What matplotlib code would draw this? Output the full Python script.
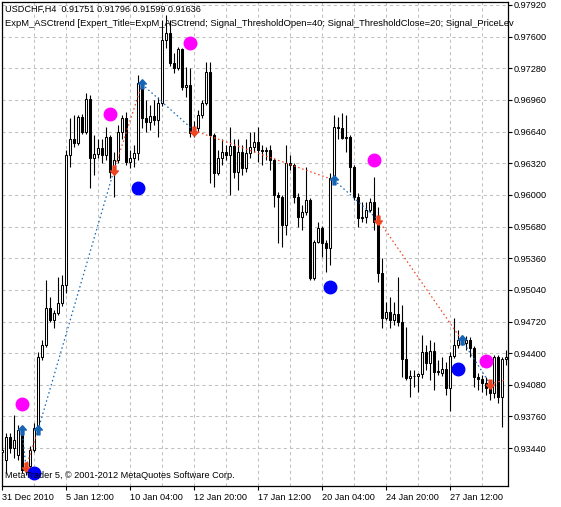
import matplotlib
matplotlib.use("Agg")
import matplotlib.pyplot as plt
import numpy as np

# --- chart data: USDCHF H4 candles ---
opens = [0.9340, 0.9332, 0.9355, 0.9344, 0.9337, 0.9362, 0.9322, 0.9326, 0.9342, 0.9364,
         0.9436, 0.9448, 0.9486, 0.9474, 0.9481, 0.9491, 0.9509, 0.9640, 0.9656, 0.9652,
         0.9679, 0.9664, 0.9697, 0.9637, 0.9641, 0.9647, 0.9640, 0.9659, 0.9623, 0.9635,
         0.9664, 0.9678, 0.9633, 0.9637, 0.9642, 0.9713, 0.9678, 0.9674, 0.9680, 0.9676,
         0.9693, 0.9757, 0.9764, 0.9733, 0.9728, 0.9747, 0.9709, 0.9711, 0.9663, 0.9668,
         0.9681, 0.9693, 0.9724, 0.9661, 0.9622, 0.9637, 0.9643, 0.9640, 0.9649, 0.9623,
         0.9643, 0.9627, 0.9642, 0.9648, 0.9653, 0.9645, 0.9644, 0.9645, 0.9635, 0.9600,
         0.9598, 0.9570, 0.9632, 0.9630, 0.9598, 0.9578, 0.9583, 0.9595, 0.9516, 0.9552,
         0.9567, 0.9551, 0.9546, 0.9617, 0.9669, 0.9668, 0.9658, 0.9659, 0.9628, 0.9598,
         0.9577, 0.9578, 0.9585, 0.9593, 0.9573, 0.9521, 0.9476, 0.9482, 0.9474, 0.9480,
         0.9472, 0.9434, 0.9415, 0.9417, 0.9417, 0.9419, 0.9441, 0.9430, 0.9442, 0.9421,
         0.9420, 0.9424, 0.9405, 0.9437, 0.9448, 0.9453, 0.9450, 0.9453, 0.9445, 0.9416,
         0.9414, 0.9410, 0.9405, 0.9400, 0.9436, 0.9396, 0.9434]
highs = [0.9346, 0.9359, 0.9359, 0.9377, 0.9367, 0.9365, 0.9330, 0.9346, 0.9369, 0.9441,
         0.9453, 0.9514, 0.9497, 0.9484, 0.9517, 0.9519, 0.9645, 0.9678, 0.9681, 0.9681,
         0.9682, 0.9703, 0.9701, 0.9661, 0.9656, 0.9656, 0.9669, 0.9661, 0.9643, 0.9671,
         0.9681, 0.9684, 0.9645, 0.9650, 0.9721, 0.9716, 0.9696, 0.9691, 0.9696, 0.9699,
         0.9777, 0.9782, 0.9777, 0.9743, 0.9750, 0.9748, 0.9729, 0.9728, 0.9675, 0.9686,
         0.9696, 0.9734, 0.9734, 0.9663, 0.9645, 0.9656, 0.9650, 0.9669, 0.9656, 0.9656,
         0.9650, 0.9656, 0.9664, 0.9664, 0.9669, 0.9650, 0.9648, 0.9650, 0.9637, 0.9603,
         0.9600, 0.9650, 0.9640, 0.9632, 0.9602, 0.9590, 0.9628, 0.9597, 0.9554, 0.9573,
         0.9569, 0.9554, 0.9622, 0.9681, 0.9679, 0.9683, 0.9681, 0.9661, 0.9630, 0.9602,
         0.9593, 0.9593, 0.9597, 0.9618, 0.9588, 0.9536, 0.9492, 0.9497, 0.9492, 0.9517,
         0.9489, 0.9466, 0.9423, 0.9423, 0.9420, 0.9458, 0.9448, 0.9453, 0.9451, 0.9433,
         0.9436, 0.9431, 0.9441, 0.9476, 0.9463, 0.9458, 0.9457, 0.9456, 0.9447, 0.9420,
         0.9418, 0.9416, 0.9413, 0.9438, 0.9438, 0.9436, 0.9443]
lows = [0.9336, 0.9319, 0.9339, 0.9334, 0.9332, 0.9319, 0.9317, 0.9324, 0.9340, 0.9360,
        0.9433, 0.9446, 0.9472, 0.9465, 0.9479, 0.9488, 0.9501, 0.9628, 0.9648, 0.9650,
        0.9662, 0.9662, 0.9607, 0.9620, 0.9637, 0.9632, 0.9635, 0.9617, 0.9598, 0.9632,
        0.9656, 0.9630, 0.9627, 0.9628, 0.9635, 0.9668, 0.9664, 0.9666, 0.9671, 0.9659,
        0.9690, 0.9748, 0.9730, 0.9723, 0.9726, 0.9706, 0.9699, 0.9659, 0.9659, 0.9664,
        0.9678, 0.9691, 0.9612, 0.9608, 0.9620, 0.9630, 0.9635, 0.9600, 0.9617, 0.9605,
        0.9620, 0.9623, 0.9637, 0.9643, 0.9633, 0.9630, 0.9635, 0.9625, 0.9588, 0.9551,
        0.9547, 0.9559, 0.9625, 0.9592, 0.9568, 0.9564, 0.9580, 0.9514, 0.9514, 0.9551,
        0.9537, 0.9522, 0.9529, 0.9615, 0.9656, 0.9656, 0.9643, 0.9603, 0.9595, 0.9568,
        0.9573, 0.9572, 0.9583, 0.9564, 0.9512, 0.9465, 0.9474, 0.9465, 0.9468, 0.9467,
        0.9416, 0.9413, 0.9396, 0.9406, 0.9401, 0.9415, 0.9423, 0.9413, 0.9403, 0.9418,
        0.9417, 0.9398, 0.9382, 0.9435, 0.9445, 0.9448, 0.9443, 0.9436, 0.9406, 0.9403,
        0.9401, 0.9398, 0.9393, 0.9395, 0.9390, 0.9365, 0.9428]
closes = [0.9342, 0.9355, 0.9344, 0.9352, 0.9362, 0.9322, 0.9326, 0.9342, 0.9364, 0.9436,
          0.9448, 0.9486, 0.9474, 0.9481, 0.9491, 0.9509, 0.9640, 0.9656, 0.9652, 0.9679,
          0.9664, 0.9697, 0.9637, 0.9641, 0.9647, 0.9640, 0.9659, 0.9623, 0.9635, 0.9664,
          0.9678, 0.9633, 0.9637, 0.9642, 0.9713, 0.9678, 0.9674, 0.9680, 0.9676, 0.9693,
          0.9757, 0.9764, 0.9733, 0.9728, 0.9747, 0.9709, 0.9711, 0.9663, 0.9668, 0.9681,
          0.9693, 0.9724, 0.9661, 0.9622, 0.9637, 0.9643, 0.9640, 0.9649, 0.9623, 0.9643,
          0.9627, 0.9642, 0.9648, 0.9653, 0.9645, 0.9644, 0.9645, 0.9635, 0.9600, 0.9598,
          0.9570, 0.9632, 0.9630, 0.9598, 0.9578, 0.9583, 0.9595, 0.9516, 0.9552, 0.9567,
          0.9551, 0.9546, 0.9617, 0.9669, 0.9668, 0.9658, 0.9659, 0.9628, 0.9598, 0.9577,
          0.9578, 0.9585, 0.9593, 0.9573, 0.9521, 0.9476, 0.9482, 0.9474, 0.9480, 0.9472,
          0.9434, 0.9415, 0.9417, 0.9417, 0.9419, 0.9441, 0.9430, 0.9442, 0.9421, 0.9422,
          0.9424, 0.9405, 0.9437, 0.9448, 0.9453, 0.9454, 0.9453, 0.9445, 0.9416, 0.9414,
          0.9410, 0.9405, 0.9400, 0.9436, 0.9396, 0.9434, 0.9436]

# expert deals: bar index, price, type
deal_bars = [5, 6, 9, 28, 35, 48, 83, 94, 115, 122]
deal_prices = [0.9362, 0.9325, 0.9362, 0.9625, 0.9712, 0.9665, 0.9615, 0.9575, 0.9453, 0.9409]
deal_types = ["buy", "sell", "buy", "sell", "buy", "sell", "buy", "sell", "buy", "sell"]
open_pos_bar = 126
open_pos_price = 0.9413

# ASCtrend signal dots
sell_sig_bars = [5, 27, 47, 93, 121]
sell_sig_prices = [0.9389, 0.9682, 0.9754, 0.9635, 0.9432]
buy_sig_bars = [8, 34, 82, 114]
buy_sig_prices = [0.9319, 0.9607, 0.9507, 0.9424]

xtick_bars = [0, 16, 32, 48, 64, 80, 96, 112]
xtick_labels = ["31 Dec 2010", "5 Jan 12:00", "10 Jan 04:00", "12 Jan 20:00",
                "17 Jan 12:00", "20 Jan 04:00", "24 Jan 20:00", "27 Jan 12:00"]
ytick_vals = [0.93440, 0.93760, 0.94080, 0.94400, 0.94720, 0.95040, 0.95360, 0.95680,
              0.96000, 0.96320, 0.96640, 0.96960, 0.97280, 0.97600, 0.97920]

header1 = "USDCHF,H4  0.91751 0.91796 0.91599 0.91636"
header2 = ("ExpM_ASCtrend [Expert_Title=ExpM_ASCtrend; Signal_ThresholdOpen=40; "
           "Signal_ThresholdClose=20; Signal_PriceLev")
footer = "MetaTrader 5, \u00a9 2001-2012 MetaQuotes Software Corp."

BUY_C = "#1565B5"
SELL_C = "#EE4422"
FONT = "Liberation Sans"

fig = plt.figure(figsize=(5.61, 5.07), dpi=100)
ax = fig.add_axes([2 / 561, 21 / 507, 506 / 561, 484 / 507])

# --- candles ---
x = np.arange(len(closes))
o = np.array(opens)
c = np.array(closes)
ax.vlines(x, lows, highs, color="black", linewidth=0.8, zorder=3)
bull = c >= o
body_lo = np.minimum(o, c)
body_h = np.abs(c - o)
ax.bar(x[bull], body_h[bull], bottom=body_lo[bull], width=0.62, facecolor="white",
       edgecolor="black", linewidth=0.75, zorder=4)
ax.bar(x[~bull], body_h[~bull], bottom=body_lo[~bull], width=0.62, facecolor="black",
       edgecolor="black", linewidth=0.75, zorder=4)

# --- deal lines and arrows ---
line_x = deal_bars + [open_pos_bar]
line_y = deal_prices + [open_pos_price]
for i, t in enumerate(deal_types):
    col = BUY_C if t == "buy" else SELL_C
    ax.plot(line_x[i:i + 2], line_y[i:i + 2], color=col, linewidth=0.9,
            linestyle=(0, (1.2, 2.2)), zorder=5)

up_arrow = [(0, 1), (0.8, 0.1), (0.3, 0.1), (0.3, -0.9), (-0.3, -0.9), (-0.3, 0.1), (-0.8, 0.1), (0, 1)]
down_arrow = [(px, -py) for px, py in up_arrow]
for b, p, t in zip(deal_bars, deal_prices, deal_types):
    if t == "buy":
        ax.plot(b, p, marker=up_arrow, color=BUY_C, markersize=7, zorder=6)
    else:
        ax.plot(b, p, marker=down_arrow, color=SELL_C, markersize=7, zorder=6)

# --- signal dots ---
ax.plot(sell_sig_bars, sell_sig_prices, "o", color="#FF00FF", markersize=9, zorder=7)
ax.plot(buy_sig_bars, buy_sig_prices, "o", color="#0000FF", markersize=9, zorder=7)

# --- axes styling ---
ax.set_xlim(0, 126.5)
ax.set_ylim(0.93057, 0.97950)
ax.set_xticks(xtick_bars)
ax.set_xticklabels(xtick_labels, ha="left", fontsize=6.6, family=FONT)
ax.set_xticks(range(8, 127, 16), minor=True)
ax.set_yticks(ytick_vals)
ax.set_yticklabels([f"{v:.5f}" for v in ytick_vals], fontsize=6.6, family=FONT)
ax.yaxis.tick_right()
ax.tick_params(axis="both", which="major", direction="out", length=3, width=0.8, pad=1)
ax.tick_params(axis="x", which="major", pad=2)
ax.tick_params(axis="x", which="minor", length=0)
ax.grid(True, which="both", color="#C0C0C0", linestyle=(0, (3, 3)), linewidth=0.75, zorder=0)
ax.set_axisbelow(True)
for s in ax.spines.values():
    s.set_linewidth(0.9)

ax.text(0.006, 0.995, header1, transform=ax.transAxes,
        fontsize=6.6, family=FONT, va="top", ha="left", zorder=8)
ax.text(0.006, 0.965, header2, transform=ax.transAxes,
        fontsize=6.75, family=FONT, va="top", ha="left", zorder=8)
ax.text(0.006, 0.012, footer, transform=ax.transAxes,
        fontsize=6.6, family=FONT, va="bottom", ha="left", zorder=8)

fig.savefig("out.png", dpi=100)
